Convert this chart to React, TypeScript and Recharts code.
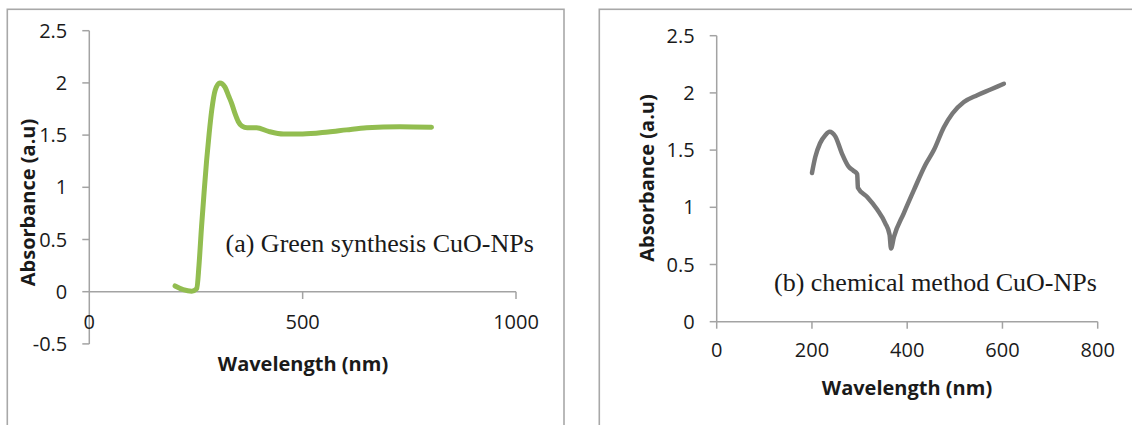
import { LineChart, Line, XAxis, YAxis, ReferenceLine } from "recharts";

// ─── (a) green synthesis CuO-NPs ─────────────────────────────────────────────
const GREEN_WAVELENGTH = [
  201, 220, 240, 252, 257, 263, 269, 275, 281, 287, 295, 306, 318, 326, 334, 342,
  349, 358, 370, 392, 420, 455, 500, 560, 603, 650, 728, 802,
];
const GREEN_ABSORBANCE = [
  0.055, 0.02, 0.005, 0.03, 0.25, 0.62, 0.95, 1.26, 1.52, 1.74, 1.93, 2.0, 1.96, 1.88,
  1.8, 1.7, 1.63, 1.585, 1.57, 1.57, 1.535, 1.51, 1.51, 1.53, 1.55, 1.57, 1.58, 1.575,
];

// ─── (b) chemical method CuO-NPs ─────────────────────────────────────────────
const CHEM_WAVELENGTH = [
  200, 207, 217, 228, 237, 249, 263, 277, 287, 295, 296.5, 316, 337, 354, 363, 366,
  372, 393, 414, 438, 456, 477, 495, 519, 547, 575, 603,
];
const CHEM_ABSORBANCE = [
  1.3, 1.44, 1.56, 1.63, 1.66, 1.62, 1.47, 1.355, 1.32, 1.29, 1.17, 1.09, 0.98, 0.86,
  0.76, 0.64, 0.74, 0.95, 1.15, 1.37, 1.5, 1.7, 1.82, 1.92, 1.98, 2.03, 2.08,
];

const LEFT_X_TICKS = [0, 500, 1000];
const LEFT_Y_TICKS = [-0.5, 0, 0.5, 1, 1.5, 2, 2.5];
const RIGHT_X_TICKS = [0, 200, 400, 600, 800];
const RIGHT_Y_TICKS = [0, 0.5, 1, 1.5, 2, 2.5];

const X_TITLE = "Wavelength (nm)";
const Y_TITLE = "Absorbance (a.u)";
const LEFT_NOTE = "(a) Green synthesis CuO-NPs";
const RIGHT_NOTE = "(b) chemical method CuO-NPs";

const GREEN = "#92BD50";
const GREY_LINE = "#787878";
const AXIS = "#A3A3A3";
const FRAME = "#A8A8A8";
const INK = "#1A1A1A";
const SANS = "'Open Sans', sans-serif";
const SERIF = "'Liberation Serif', 'Times New Roman', serif";

const greenData = GREEN_WAVELENGTH.map((wl, i) => ({ wl, abs: GREEN_ABSORBANCE[i] }));
const chemData = CHEM_WAVELENGTH.map((wl, i) => ({ wl, abs: CHEM_ABSORBANCE[i] }));

const tickStyle = { fill: INK, fontSize: 20, fontFamily: SANS };

// x labels of the left panel sit between the y = 0 crossing and the -0.5 edge
function RaisedTick(props: any) {
  const { x, y, payload } = props;
  return (
    <text x={x} y={y} dy={-15} textAnchor="middle" {...tickStyle}>
      {payload.value}
    </text>
  );
}

function GreenChart() {
  return (
    <LineChart
      width={570}
      height={425}
      data={greenData}
      margin={{ top: 30.7, right: 54, bottom: 71.1, left: 9.3 }}
    >
      <XAxis
        dataKey="wl"
        type="number"
        domain={[0, 1000]}
        ticks={LEFT_X_TICKS}
        interval={0}
        height={10}
        axisLine={false}
        tickLine={false}
        tickSize={0}
        tickMargin={0}
        tick={<RaisedTick />}
      />
      <YAxis
        type="number"
        domain={[-0.5, 2.5]}
        ticks={LEFT_Y_TICKS}
        interval={0}
        width={80}
        axisLine={{ stroke: AXIS, strokeWidth: 1.5 }}
        tickLine={{ stroke: AXIS, strokeWidth: 1.5 }}
        tickSize={7}
        tickMargin={15}
        tick={tickStyle}
      />
      <ReferenceLine y={0} stroke={AXIS} strokeWidth={1.5} />
      {LEFT_X_TICKS.filter((t) => t > 0).map((t) => (
        <ReferenceLine
          key={t}
          segment={[
            { x: t, y: 0 },
            { x: t, y: -0.07 },
          ]}
          stroke={AXIS}
          strokeWidth={1.5}
        />
      ))}
      <Line
        dataKey="abs"
        type="monotone"
        stroke={GREEN}
        strokeWidth={5}
        strokeLinecap="round"
        dot={false}
        activeDot={false}
        isAnimationActive={false}
      />
    </LineChart>
  );
}

function ChemChart() {
  return (
    <LineChart
      width={562}
      height={425}
      data={chemData}
      margin={{ top: 35.7, right: 34.3, bottom: 73.3, left: 66.7 }}
    >
      <XAxis
        dataKey="wl"
        type="number"
        domain={[0, 800]}
        ticks={RIGHT_X_TICKS}
        interval={0}
        height={30}
        axisLine={{ stroke: AXIS, strokeWidth: 1.5 }}
        tickLine={{ stroke: AXIS, strokeWidth: 1.5 }}
        tickSize={7}
        tickMargin={14}
        tick={tickStyle}
      />
      <YAxis
        type="number"
        domain={[0, 2.5]}
        ticks={RIGHT_Y_TICKS}
        interval={0}
        width={80}
        axisLine={{ stroke: AXIS, strokeWidth: 1.5 }}
        tickLine={{ stroke: AXIS, strokeWidth: 1.5 }}
        tickSize={7}
        tickMargin={15}
        tick={tickStyle}
      />
      <Line
        dataKey="abs"
        type="monotone"
        stroke={GREY_LINE}
        strokeWidth={4.5}
        strokeLinecap="round"
        strokeLinejoin="round"
        dot={false}
        activeDot={false}
        isAnimationActive={false}
      />
    </LineChart>
  );
}

export default function App() {
  const titleStyle = { fontFamily: SANS, fontSize: 20, fontWeight: 700, fill: INK };
  return (
    <div
      style={{
        position: "absolute",
        left: 0,
        top: 0,
        width: 1132,
        height: 425,
        overflow: "hidden",
        background: "#fff",
      }}
    >
      <div style={{ position: "absolute", left: 0, top: 0 }}>
        <GreenChart />
      </div>
      <div style={{ position: "absolute", left: 570, top: 0 }}>
        <ChemChart />
      </div>
      <svg
        width={1132}
        height={425}
        style={{ position: "absolute", left: 0, top: 0, pointerEvents: "none" }}
      >
        <rect x={7.3} y={9.3} width={556.7} height={500} fill="none" stroke={FRAME} strokeWidth={1.6} />
        <rect x={599.3} y={9.3} width={600} height={500} fill="none" stroke={FRAME} strokeWidth={1.6} />

        <text x={303} y={363} textAnchor="middle" dominantBaseline="central" {...titleStyle}>
          {X_TITLE}
        </text>
        <text
          x={27}
          y={202.5}
          textAnchor="middle"
          dominantBaseline="central"
          transform="rotate(-90 27 202.5)"
          {...titleStyle}
        >
          {Y_TITLE}
        </text>
        <text x={907} y={387} textAnchor="middle" dominantBaseline="central" {...titleStyle}>
          {X_TITLE}
        </text>
        <text
          x={646}
          y={178}
          textAnchor="middle"
          dominantBaseline="central"
          transform="rotate(-90 646 178)"
          {...titleStyle}
        >
          {Y_TITLE}
        </text>

        <text x={225.5} y={251.7} fontFamily={SERIF} fontSize={26} fill={INK}>
          {LEFT_NOTE}
        </text>
        <text x={774} y={290.5} fontFamily={SERIF} fontSize={26} fill={INK}>
          {RIGHT_NOTE}
        </text>
      </svg>
    </div>
  );
}
